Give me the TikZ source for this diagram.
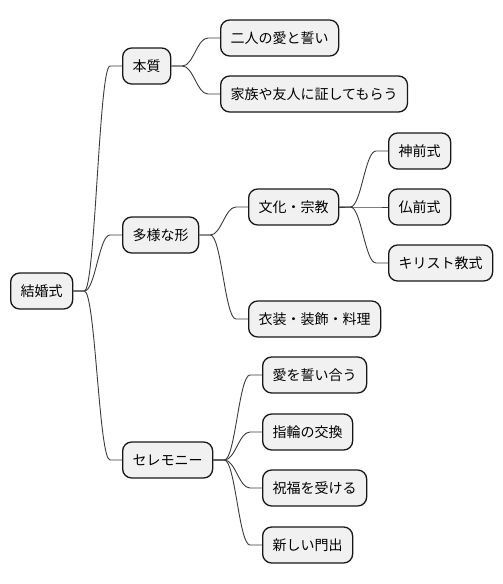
\documentclass[tikz,border=0pt]{standalone}
\usepackage{fontspec}
\setmainfont{Noto Sans CJK JP}
\usetikzlibrary{calc}
\definecolor{nodefill}{HTML}{F1F1F1}
\definecolor{nodeline}{HTML}{181818}
\tikzset{
  mm/.style={draw=nodeline, line width=1.3pt, fill=nodefill, rounded corners=9pt,
    minimum height=36pt, inner xsep=10pt, inner ysep=0pt, anchor=west,
    font=\fontsize{14pt}{16pt}\selectfont, text=black},
  link/.style={draw=nodeline!85, line width=0.9pt}
}
\newcommand\mmconn[2]{\draw[link] (#1.east) -- ++(11pt,0) .. controls +(11pt,0) and +(-11pt,0) .. ($(#2.west)+(-12pt,0)$) -- (#2.west);}
\begin{document}
\begin{tikzpicture}[x=1pt,y=-1pt]
\useasboundingbox (0,0) rectangle (503,584);
\node[mm] (root) at (10,291) {結婚式};
\node[mm] (a) at (122,66) {本質};
\node[mm] (a1) at (220,38) {二人の愛と誓い};
\node[mm] (a2) at (220,94) {家族や友人に証してもらう};
\node[mm] (b) at (122,235) {多様な形};
\node[mm] (b1) at (248,207) {文化・宗教};
\node[mm] (b11) at (388,151) {神前式};
\node[mm] (b12) at (388,207) {仏前式};
\node[mm] (b13) at (388,263) {キリスト教式};
\node[mm] (b2) at (248,319) {衣装・装飾・料理};
\node[mm] (c) at (122,460) {セレモニー};
\node[mm] (c1) at (262,375) {愛を誓い合う};
\node[mm] (c2) at (262,432) {指輪の交換};
\node[mm] (c3) at (262,488) {祝福を受ける};
\node[mm] (c4) at (262,545) {新しい門出};
\mmconn{root}{a}
\mmconn{root}{b}
\mmconn{root}{c}
\mmconn{a}{a1}
\mmconn{a}{a2}
\mmconn{b}{b1}
\mmconn{b}{b2}
\mmconn{b1}{b11}
\mmconn{b1}{b12}
\mmconn{b1}{b13}
\mmconn{c}{c1}
\mmconn{c}{c2}
\mmconn{c}{c3}
\mmconn{c}{c4}
\end{tikzpicture}
\end{document}
